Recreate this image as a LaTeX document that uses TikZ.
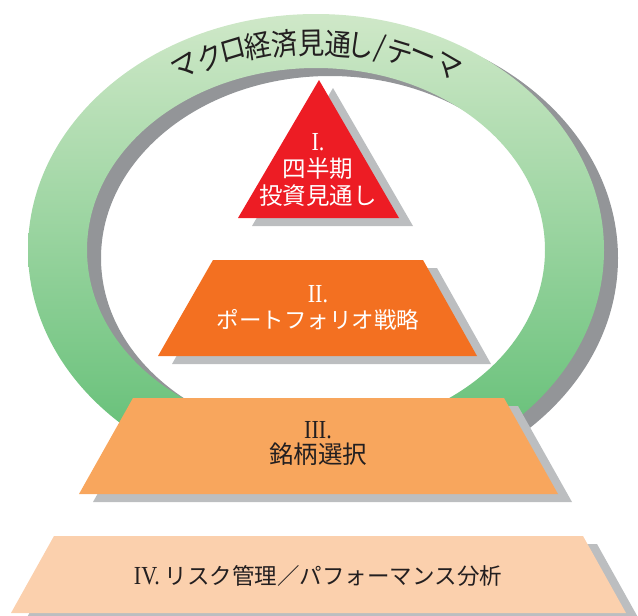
\documentclass[tikz,border=0pt]{standalone}
\usepackage{fontspec}
\setmainfont{Noto Sans CJK JP}
\newfontfamily\numfont[FakeStretch=0.85]{Liberation Serif}
\definecolor{ringtop}{HTML}{CFE8C8}
\definecolor{ringbot}{HTML}{5BBC70}
\definecolor{ringshadow}{HTML}{939598}
\definecolor{boxshadow}{HTML}{BCBEC0}
\definecolor{lvI}{HTML}{ED1C24}
\definecolor{lvII}{HTML}{F37021}
\definecolor{lvIII}{HTML}{F8A65D}
\definecolor{lvIV}{HTML}{FBD0AD}
\definecolor{darktext}{HTML}{231F20}
\newcommand\myfs[2]{\fontsize{#1}{#2}\selectfont}
\newcommand\rn[1]{{\numfont\fontsize{26}{26}\selectfont #1}}
\begin{document}
\begin{tikzpicture}[x=1pt,y=-1pt,
  ringchar/.style={inner sep=0pt, text=darktext, font=\myfs{30}{30}, xscale=0.88},
  lvlabel/.style={inner sep=0pt, align=center}]
\useasboundingbox (0,0) rectangle (638,616);
% ring shadow
\fill[ringshadow, even odd rule] (330,258) ellipse [x radius=288pt, y radius=236pt]
                                 (330,258) ellipse [x radius=229pt, y radius=182pt];
% green ring
\shade[top color=ringtop, bottom color=ringbot, even odd rule]
  (316,250) ellipse [x radius=288pt, y radius=236pt]
  (316,250) ellipse [x radius=229pt, y radius=182pt];
% ring text
\node[ringchar, rotate=28] (r1) at (185,67) {マ};
\node[ringchar, rotate=22] (r2) at (210,57) {ク};
\node[ringchar, rotate=15] (r3) at (233,50) {ロ};
\node[ringchar, rotate=10] (r4) at (258,46) {経};
\node[ringchar, rotate=6] (r5) at (285,44) {済};
\node[ringchar, rotate=1] (r6) at (312,43) {見};
\node[ringchar, rotate=-4] (r7) at (338,44) {通};
\node[ringchar, rotate=-8] (r8) at (361,46) {し};
\node[ringchar, rotate=-11] (r9) at (380,49) {/};
\node[ringchar, rotate=-15] (r10) at (400,53) {テ};
\node[ringchar, rotate=-20] (r11) at (422,59) {ー};
\node[ringchar, rotate=-27] (r12) at (448,67) {マ};
% level I
\begin{scope}[shift={(14,8)}]
\fill[boxshadow] (319,80) -- (399,218) -- (238,218) -- cycle;
\end{scope}
\fill[lvI] (319,80) -- (399,218) -- (238,218) -- cycle;
\node[lvlabel, text=white, font=\myfs{23.5}{27}] (t1) at (318,170) {\rn{I.}\\四半期\\投資見通し};
% level II
\begin{scope}[shift={(14,8)}]
\fill[boxshadow] (213,260) -- (423,260) -- (477,356) -- (158,356) -- cycle;
\end{scope}
\fill[lvII] (213,260) -- (423,260) -- (477,356) -- (158,356) -- cycle;
\node[lvlabel, text=white, font=\myfs{22.5}{26}] (t2) at (318,308) {\rn{II.}\\ポートフォリオ戦略};
% level III
\begin{scope}[shift={(14,8)}]
\fill[boxshadow] (133,398) -- (504,398) -- (558,494) -- (79,494) -- cycle;
\end{scope}
\fill[lvIII] (133,398) -- (504,398) -- (558,494) -- (79,494) -- cycle;
\node[lvlabel, text=darktext, font=\myfs{24.5}{25}] (t3) at (318,444) {\rn{III.}\\銘柄選択};
% level IV
\begin{scope}[shift={(14,8)}]
\fill[boxshadow] (54,536) -- (583,536) -- (626,613) -- (11,613) -- cycle;
\end{scope}
\fill[lvIV] (54,536) -- (583,536) -- (626,613) -- (11,613) -- cycle;
\node[lvlabel, text=darktext, font=\myfs{22.5}{26}] (t4) at (318,576) {\rn{IV.} リスク管理／パフォーマンス分析};
\end{tikzpicture}
\end{document}
